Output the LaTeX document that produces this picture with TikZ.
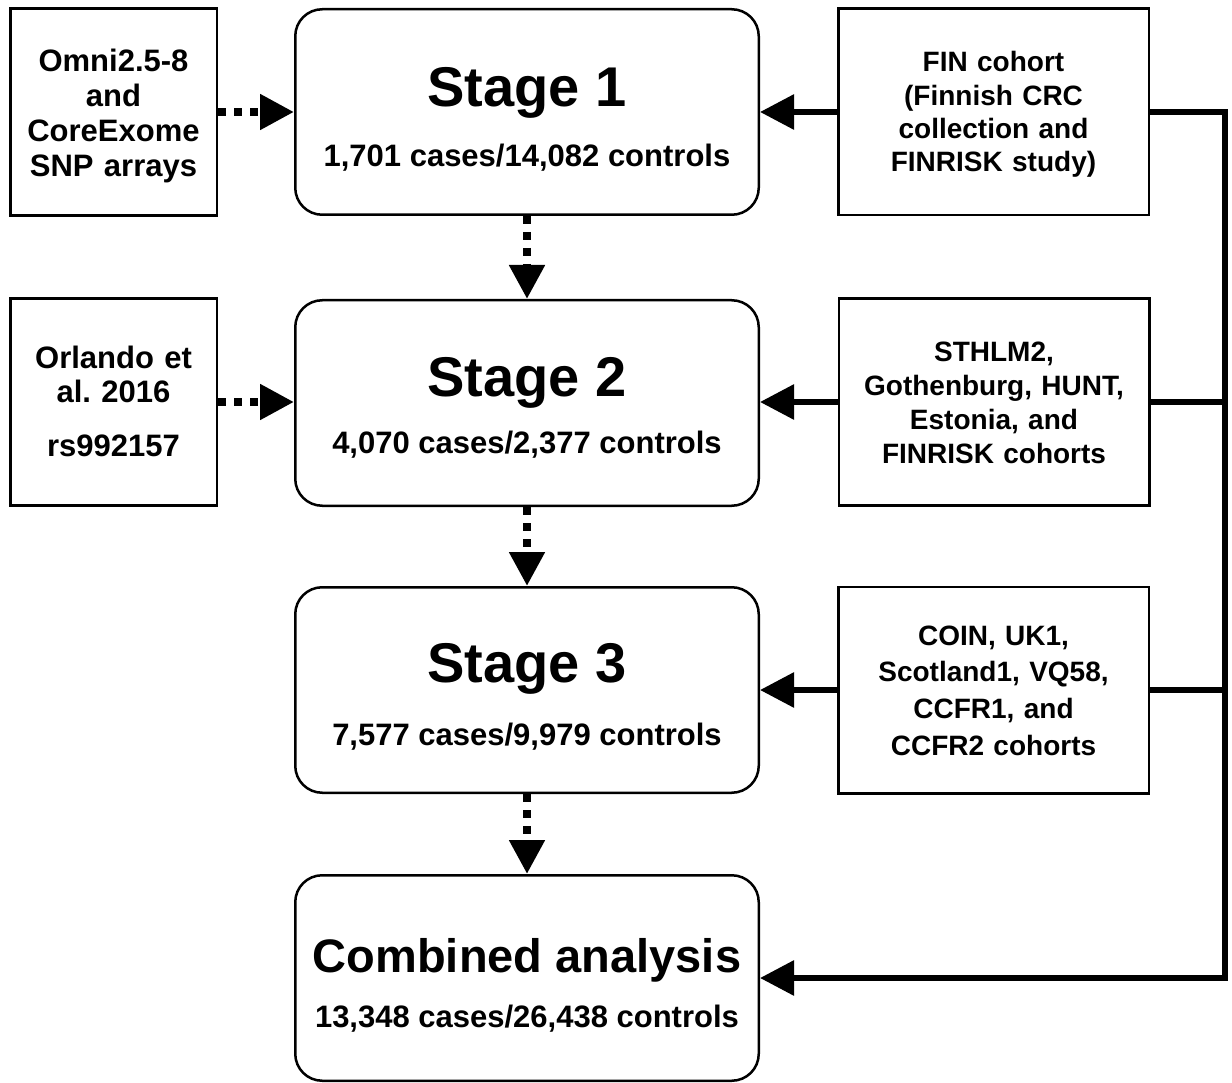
\documentclass[tikz,border=0pt]{standalone}
\usepackage{fontspec}
\setmainfont{Liberation Sans}
\usetikzlibrary{arrows.meta,calc}
\frenchspacing
\begin{document}
\begin{tikzpicture}[x=1pt,y=-1pt,
  sqbox/.style={draw, line width=2.5pt, minimum width=206.5pt, minimum height=207pt, inner sep=0pt},
  rbox/.style={draw, line width=2.5pt, minimum width=310.5pt, minimum height=206.5pt, inner sep=0pt},
  stagebox/.style={draw, line width=2.5pt, rounded corners=27pt, minimum width=463.5pt, minimum height=205.5pt, inner sep=0pt},
  bigtxt/.style={font=\bfseries\fontsize{56}{60}\selectfont, anchor=base, inner sep=0pt},
  combtxt/.style={font=\bfseries\fontsize{47}{52}\selectfont, anchor=base, inner sep=0pt},
  subtxt/.style={font=\bfseries\fontsize{31}{35}\selectfont, anchor=base, inner sep=0pt},
  lefttxt/.style={font=\bfseries\fontsize{31}{35}\selectfont, anchor=base, inner sep=0pt, text width=205pt, align=center},
  righttxt/.style={font=\bfseries\fontsize{28}{#1}\selectfont, anchor=base, inner sep=0pt, text width=305pt, align=center},
  solidarrow/.style={line width=6pt, -{Triangle[length=34pt,width=34pt]}},
  solidline/.style={line width=6pt},
  dotarrow/.style={line width=8pt, dash pattern=on 8pt off 8pt, -{Triangle[length=34pt,width=34pt]}},
]
\useasboundingbox (0,0) rectangle (1232,1083);
\fill[white] (0,0) rectangle (1232,1083);

% boxes
\node[sqbox] (l1) at (113.5,112) {};
\node[sqbox] (l2) at (113.5,402) {};
\node[stagebox] (s1) at (527,112) {};
\node[stagebox] (s2) at (527,403) {};
\node[stagebox] (s3) at (527,690) {};
\node[stagebox] (cb) at (527,978) {};
\node[rbox] (r1) at (993.5,112) {};
\node[rbox] (r2) at (994,402) {};
\node[rbox] (r3) at (993.5,690) {};

% texts
\node[bigtxt] (s1a) at (527,107) {Stage 1};
\node[subtxt] (s1b) at (527,167) {1,701 cases/14,082 controls};
\node[bigtxt] (s2a) at (527,396) {Stage 2};
\node[subtxt] (s2b) at (527,453) {4,070 cases/2,377 controls};
\node[bigtxt] (s3a) at (527,682) {Stage 3};
\node[subtxt] (s3b) at (527,745) {7,577 cases/9,979 controls};
\node[combtxt] (cba) at (527,972) {Combined analysis};
\node[subtxt] (cbb) at (527,1027) {13,348 cases/26,438 controls};

\node[lefttxt] (l1t) at (113.5,72) {Omni2.5-8\\and\\CoreExome\\SNP arrays};
\node[lefttxt] (l2t) at (113.5,368) {Orlando et\\al. 2016\\[19pt]rs992157};

\node[righttxt=33.3] (r1t) at (993.5,72) {FIN cohort\\(Finnish CRC\\collection and\\FINRISK study)};
\node[righttxt=33.7] (r2t) at (994,362) {STHLM2,\\Gothenburg, HUNT,\\Estonia, and\\FINRISK cohorts};
\node[righttxt=36.7] (r3t) at (993.5,645) {COIN, UK1,\\Scotland1, VQ58,\\CCFR1, and\\CCFR2 cohorts};

% dotted arrows
\draw[dotarrow] (l1.east) -- (l1.east -| s1.west);
\draw[dotarrow] (l2.east) -- (l2.east -| s2.west);
\draw[dotarrow] (s1.south) -- (s2.north);
\draw[dotarrow] (s2.south) -- (s3.north);
\draw[dotarrow] (s3.south) -- (cb.north);

% solid arrows
\draw[solidarrow] (r1.west) -- (r1.west -| s1.east);
\draw[solidarrow] (r2.west) -- (r2.west -| s2.east);
\draw[solidarrow] (r3.west) -- (r3.west -| s3.east);

\coordinate (rt) at (1225,112);
\coordinate (rb) at (1225,978);
\draw[solidarrow, line join=miter] (r1.east) -- (rt) -- (rb) -- (cb.east);
\draw[solidline] (r2.east) -- (r2.east -| rt);
\draw[solidline] (r3.east) -- (r3.east -| rt);
\end{tikzpicture}
\end{document}
